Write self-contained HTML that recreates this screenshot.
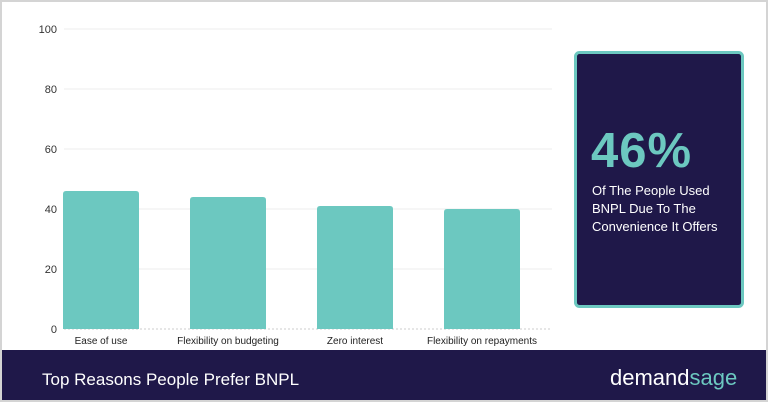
<!DOCTYPE html>
<html><head><meta charset="utf-8"><style>
body{margin:0;width:768px;height:402px;overflow:hidden;background:#fff;font-family:"Liberation Sans",sans-serif}
#wrap{position:absolute;left:0;top:0;width:764px;height:398px;border:2px solid #d4d4d4;background:#fff}
</style></head><body>
<div id="wrap">
<svg width="764" height="398" style="position:absolute;left:0;top:0">
<g id="grid"></g><g id="bars"></g><g id="labels"></g>
<rect x="0" y="348" width="764" height="50" fill="#1f1849"/>
<text x="40" y="383" fill="#fff" font-size="17">Top Reasons People Prefer BNPL</text>
<text x="608" y="383" fill="#fff" font-size="22">demand<tspan fill="#6cc8c0">sage</tspan></text>
<rect x="573.5" y="50.5" width="167" height="254" rx="4" fill="#1f1849" stroke="#6cc8c0" stroke-width="3"/>
<text x="589" y="165" fill="#6cc8c0" font-size="49" font-weight="bold" letter-spacing="1">46%</text>
<g fill="#fff" font-size="13">
<text x="590" y="193">Of The People Used</text>
<text x="590" y="211">BNPL Due To The</text>
<text x="590" y="229">Convenience It Offers</text>
</g>
</svg>
</div>
<script>
const categories=["Ease of use","Flexibility on budgeting","Zero interest","Flexibility on repayments"];
const values=[46,44,41,40];
const ticks=[0,20,40,60,80,100];
const ns="http://www.w3.org/2000/svg";
const y=v=>327-v*3;
const x=i=>61+i*127;
const g=document.getElementById('grid'),b=document.getElementById('bars'),l=document.getElementById('labels');
function mk(t,a,p){const e=document.createElementNS(ns,t);for(const k in a)e.setAttribute(k,a[k]);p.appendChild(e);return e;}
ticks.forEach(t=>{
 const ln=mk('line',{x1:62,x2:550,y1:y(t),y2:y(t),stroke:t?'#eeeeee':'#cccccc','stroke-width':1,'stroke-dasharray':t?'':'2,2'},g);
 
 
 const tx=mk('text',{x:55,y:y(t)+4,'text-anchor':'end','font-size':11,fill:'#333'},g);
 tx.textContent=t;
 
 
});
values.forEach((v,i)=>{
 const r=mk('path',{d:`M${x(i)},${y(0)}V${y(v)+3}q0,-3 3,-3h70q3,0 3,3V${y(0)}Z`,fill:'#6cc8c0'},b);
 
 
 const t=mk('text',{x:x(i)+38,y:342,'text-anchor':'middle','font-size':10,fill:'#222'},l);
 t.textContent=categories[i];
 
 
});
</script>
</body></html>
